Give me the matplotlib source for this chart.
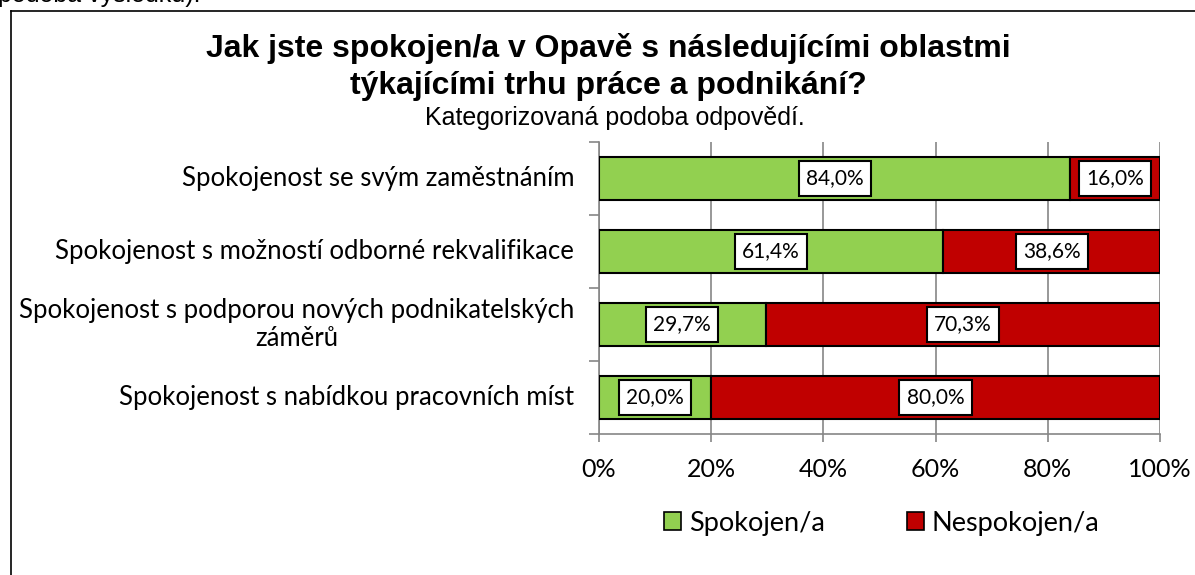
import matplotlib
matplotlib.use("Agg")
import matplotlib.pyplot as plt
from matplotlib.patches import Rectangle

categories = [
    "Spokojenost se svým zaměstnáním",
    "Spokojenost s možností odborné rekvalifikace",
    "Spokojenost s podporou nových podnikatelských\nzáměrů",
    "Spokojenost s nabídkou pracovních míst",
]
spokojen = [84.0, 61.4, 29.7, 20.0]
nespokojen = [16.0, 38.6, 70.3, 80.0]
series_names = ["Spokojen/a", "Nespokojen/a"]
xticks = [0, 20, 40, 60, 80, 100]
xtick_labels = ["0%", "20%", "40%", "60%", "80%", "100%"]

W, H = 1195, 575
fig = plt.figure(figsize=(W / 100, H / 100), dpi=100)
fig.patch.set_facecolor("white")

def fx(px):
    return px / W

def fy(py):
    return 1 - py / H

label_font = "Lato"
green = "#92D050"
red = "#C00000"
gray = "#868686"

# outer border
fig.add_artist(plt.Line2D([fx(10.5), fx(10.5)], [fy(10.5), fy(580)], color="black", lw=1.2, transform=fig.transFigure))
fig.add_artist(plt.Line2D([fx(10.5), fx(1200)], [fy(10.5), fy(10.5)], color="black", lw=1.2, transform=fig.transFigure))

# cut text at top (document text above the chart)
fig.text(fx(-2), fy(2), "podoba výsledku).", fontsize=18, family="Liberation Sans", ha="left", va="baseline")

# titles
fig.text(fx(608), fy(48), "Jak jste spokojen/a v Opavě s následujícími oblastmi", fontsize=23,
         fontweight="bold", family="Liberation Sans", ha="center", va="center")
fig.text(fx(608), fy(86), "týkajícími trhu práce a podnikání?", fontsize=23,
         fontweight="bold", family="Liberation Sans", ha="center", va="center")
fig.text(fx(615), fy(118), "Kategorizovaná podoba odpovědí.", fontsize=18,
         family="Liberation Sans", ha="center", va="center")

ax = fig.add_axes([fx(599), fy(434), fx(1160 - 599), (434 - 142) / H])
n = len(categories)
ypos = list(range(n))
ax.barh(ypos, spokojen, height=0.6, color=green, edgecolor="black", lw=1.5, zorder=3)
ax.barh(ypos, nespokojen, left=spokojen, height=0.6, color=red, edgecolor="black", lw=1.5, zorder=3)

box = dict(boxstyle="square,pad=0.35", facecolor="white", edgecolor="black", lw=1.5)
for i in range(n):
    ax.text(spokojen[i] / 2, i, f"{spokojen[i]:.1f}%".replace(".", ","), ha="center", va="center",
            fontsize=15, family=label_font, bbox=box, zorder=5)
    ax.text(spokojen[i] + nespokojen[i] / 2, i, f"{nespokojen[i]:.1f}%".replace(".", ","), ha="center",
            va="center", fontsize=15, family=label_font, bbox=box, zorder=5)

ax.set_xlim(0, 100)
ax.set_ylim(n - 0.5, -0.5)
ax.set_xticks(xticks)
ax.set_xticklabels(xtick_labels, family=label_font, fontsize=18)
ax.tick_params(axis="x", length=6, width=1.2, color=gray, pad=11)
ax.set_yticks([i - 0.5 for i in range(n + 1)])
ax.set_yticklabels([])
ax.tick_params(axis="y", length=7, width=1.2, color=gray)

# category labels
ytr = ax.get_yaxis_transform()
x_right = (574 - 599) / 561
for i, c in enumerate(categories):
    lines = c.split("\n")
    if len(lines) == 1:
        ax.text(x_right, i, lines[0], transform=ytr, ha="right", va="center",
                family=label_font, fontsize=18.5)
    else:
        ax.text(x_right, i, c, transform=ytr, ha="right", va="center", multialignment="center",
                linespacing=1.15, family=label_font, fontsize=18.5)

ax.grid(axis="x", color=gray, lw=1.2, zorder=0)
for s in ["top", "right"]:
    ax.spines[s].set_visible(False)
for s in ["left", "bottom"]:
    ax.spines[s].set_color(gray)
    ax.spines[s].set_linewidth(1.2)

handles = [Rectangle((0, 0), 1, 1, facecolor=green, edgecolor="black", lw=1.2),
           Rectangle((0, 0), 1, 1, facecolor=red, edgecolor="black", lw=1.2)]
fig.legend(handles, series_names, loc="center", bbox_to_anchor=(fx(882), fy(523)), ncol=2, frameon=False,
           prop={"family": label_font, "size": 19.5}, handlelength=0.63, handleheight=0.63,
           handletextpad=0.3, columnspacing=3.0)

fig.savefig("out.png", dpi=100)
